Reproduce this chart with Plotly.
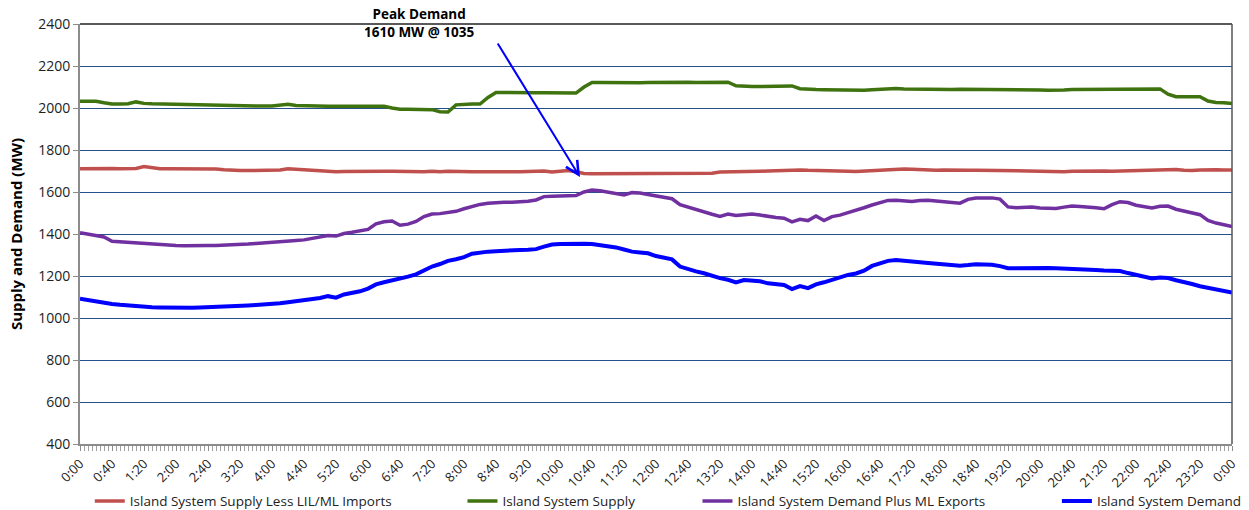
import plotly.graph_objects as go

# time of day in minutes (10-minute readings), 0:00 .. 24:00
minutes = list(range(0, 1441, 10))

tick_minutes = list(range(0, 1441, 40))
tick_labels = ["%d:%02d" % ((m // 60) % 24, m % 60) for m in tick_minutes]

supply_less_imports = [
    1711, 1712, 1710, 1711, 1712, 1711, 1711, 1712, 1721, 1714, 1711, 1711,
    1711, 1711, 1711, 1710, 1710, 1709, 1706, 1703, 1702, 1702, 1702, 1701,
    1701, 1705, 1711, 1709, 1706, 1703, 1699, 1698, 1697, 1698, 1699, 1699,
    1699, 1699, 1699, 1699, 1698, 1699, 1699, 1697, 1699, 1696, 1699, 1697,
    1696, 1697, 1697, 1696, 1696, 1697, 1697, 1697, 1697, 1698, 1700, 1695,
    1697, 1702, 1696, 1688, 1687, 1687, 1688, 1688, 1688, 1689, 1688, 1689,
    1689, 1688, 1689, 1689, 1688, 1688, 1688, 1689, 1695, 1695, 1696, 1697,
    1698, 1699, 1700, 1702, 1703, 1705, 1705, 1703, 1703, 1703, 1703, 1702,
    1699, 1698, 1700, 1704, 1708, 1710, 1710, 1710, 1708, 1706, 1705, 1704,
    1705, 1703, 1702, 1703, 1704, 1703, 1702, 1701, 1701, 1700, 1700, 1700,
    1698, 1697, 1694, 1697, 1699, 1700, 1701, 1701, 1700, 1699, 1700, 1702,
    1702, 1703, 1704, 1706, 1709, 1707, 1704, 1702, 1705, 1707, 1706, 1705,
    1705,
]

supply = [
    2032, 2033, 2032, 2025, 2019, 2019, 2020, 2029, 2022, 2020, 2019, 2019,
    2019, 2019, 2018, 2017, 2016, 2014, 2012, 2010, 2008, 2007, 2008, 2009,
    2009, 2012, 2018, 2012, 2010, 2009, 2008, 2008, 2008, 2007, 2007, 2007,
    2008, 2008, 2008, 2000, 1994, 1994, 1993, 1993, 1992, 1982, 1981, 2015,
    2018, 2019, 2019, 2050, 2074, 2073, 2072, 2072, 2071, 2073, 2073, 2072,
    2072, 2073, 2071, 2100, 2122, 2122, 2121, 2121, 2121, 2121, 2120, 2121,
    2122, 2123, 2123, 2122, 2123, 2122, 2122, 2122, 2122, 2123, 2106, 2102,
    2102, 2102, 2103, 2103, 2104, 2105, 2092, 2088, 2088, 2087, 2086, 2085,
    2084, 2084, 2085, 2087, 2090, 2093, 2093, 2091, 2090, 2090, 2089, 2089,
    2088, 2088, 2089, 2089, 2088, 2087, 2086, 2086, 2086, 2086, 2085, 2085,
    2086, 2084, 2083, 2086, 2088, 2088, 2089, 2089, 2088, 2088, 2089, 2090,
    2090, 2090, 2091, 2091, 2066, 2054, 2054, 2054, 2054, 2033, 2026, 2025,
    2021,
]

demand_plus_exports = [
    1406, 1400, 1395, 1386, 1365, 1362, 1360, 1357, 1353, 1351, 1349, 1347,
    1345, 1344, 1343, 1344, 1345, 1345, 1346, 1347, 1349, 1352, 1355, 1357,
    1359, 1362, 1366, 1369, 1372, 1378, 1386, 1393, 1390, 1402, 1408, 1413,
    1422, 1448, 1458, 1462, 1442, 1447, 1460, 1483, 1495, 1497, 1502, 1508,
    1520, 1530, 1541, 1546, 1550, 1551, 1551, 1552, 1556, 1562, 1578, 1580,
    1580, 1582, 1583, 1600, 1609, 1606, 1600, 1594, 1586, 1597, 1595, 1588,
    1582, 1577, 1568, 1540, 1528, 1515, 1505, 1494, 1484, 1495, 1488, 1492,
    1495, 1490, 1483, 1479, 1475, 1458, 1470, 1464, 1486, 1464, 1483, 1490,
    1502, 1512, 1525, 1538, 1550, 1560, 1561, 1556, 1555, 1559, 1561, 1557,
    1553, 1550, 1547, 1565, 1571, 1572, 1572, 1566, 1529, 1525, 1527, 1528,
    1524, 1523, 1522, 1528, 1533, 1531, 1530, 1525, 1520, 1540, 1554, 1550,
    1537, 1530, 1524, 1532, 1533, 1518, 1508, 1500, 1492, 1465, 1452, 1444,
    1435,
]

demand = [
    1092, 1085, 1078, 1073, 1067, 1063, 1059, 1056, 1053, 1051, 1050, 1049,
    1049, 1048, 1049, 1050, 1051, 1053, 1055, 1056, 1058, 1060, 1062, 1064,
    1065, 1070, 1075, 1080, 1084, 1088, 1095, 1104, 1097, 1112, 1120, 1127,
    1140, 1160, 1170, 1178, 1187, 1197, 1208, 1228, 1245, 1257, 1272, 1280,
    1290, 1306, 1313, 1316, 1318, 1321, 1323, 1324, 1325, 1328, 1340, 1350,
    1352, 1354, 1356, 1354, 1352, 1347, 1342, 1336, 1326, 1316, 1312, 1308,
    1295, 1287, 1279, 1245, 1232, 1222, 1213, 1200, 1190, 1182, 1170, 1181,
    1180, 1175, 1165, 1159, 1157, 1138, 1152, 1142, 1160, 1170, 1182, 1192,
    1205, 1212, 1225, 1248, 1262, 1272, 1276, 1274, 1271, 1266, 1262, 1258,
    1255, 1252, 1249, 1252, 1256, 1255, 1254, 1247, 1237, 1237, 1238, 1240,
    1239, 1238, 1237, 1236, 1235, 1232, 1230, 1228, 1226, 1225, 1224, 1214,
    1206, 1197, 1188, 1193, 1190, 1180, 1172, 1162, 1151, 1143, 1135, 1128,
    1121,
]

series_names = [
    "Island System Supply Less LIL/ML Imports",
    "Island System Supply",
    "Island System Demand Plus ML Exports",
    "Island System Demand",
]
series_values = [supply_less_imports, supply, demand_plus_exports, demand]
series_colors = ["#C0504D", "#3F7310", "#7030A0", "#0000FF"]
series_widths = [3.5, 3.5, 3.5, 4]
legend_ids = ["legend", "legend2", "legend3", "legend4"]
legend_x = [0.0085, 0.332, 0.536, 0.848]

peak_minute = 625
peak_label_y = 1671
arrow_tail_minute = 521
arrow_tail_y = 2314

FONT = "Open Sans"

fig = go.Figure()
for name, vals, col, w, lg in zip(series_names, series_values, series_colors,
                                  series_widths, legend_ids):
    fig.add_trace(go.Scatter(
        x=minutes, y=vals, mode="lines", name=name,
        line=dict(color=col, width=w), legend=lg,
    ))

legend_common = dict(
    orientation="h", yanchor="middle", y=-0.136, xanchor="left",
    font=dict(family=FONT, size=13.5, color="#222222"),
    bgcolor="rgba(0,0,0,0)", borderwidth=0,
)
layout_legends = {}
for lg, lx in zip(legend_ids, legend_x):
    layout_legends[lg] = dict(legend_common, x=lx)

fig.update_layout(
    width=1249, height=510,
    margin=dict(l=80, r=17, t=24, b=66, autoexpand=False),
    paper_bgcolor="white", plot_bgcolor="white",
    font=dict(family=FONT, size=13, color="#222222"),
    showlegend=True,
    **layout_legends,
)

fig.update_xaxes(
    range=[0, 1440], automargin=False,
    tickmode="array", tickvals=tick_minutes, ticktext=tick_labels,
    tickangle=-45, tickfont=dict(family=FONT, size=13, color="#222222"),
    ticks="outside", ticklen=5, tickcolor="#8C8C8C",
    minor=dict(tickmode="linear", tick0=0, dtick=5, ticks="outside",
               ticklen=5, tickcolor="#A0A0A0", showgrid=False),
    showgrid=False, zeroline=False,
    showline=True, linecolor="#8C8C8C", linewidth=2,
)
fig.update_yaxes(
    range=[400, 2400], tickmode="linear", tick0=400, dtick=200, automargin=False,
    tickfont=dict(family=FONT, size=14, color="#222222"),
    ticks="outside", ticklen=5, tickcolor="#8C8C8C",
    showgrid=True, gridcolor="#25508C", gridwidth=1,
    zeroline=False, showline=True, linecolor="#8C8C8C", linewidth=2,
    title=dict(text="<b>Supply and Demand (MW)</b>",
               font=dict(family=FONT, size=15, color="#000000"), standoff=12),
)

# plot-area border (top and right)
fig.add_shape(type="line", xref="paper", yref="paper", x0=0, x1=1, y0=1, y1=1,
              line=dict(color="#222222", width=1.5))
fig.add_shape(type="line", xref="paper", yref="paper", x0=1, x1=1, y0=0, y1=1,
              line=dict(color="#555555", width=1.5))

fig.add_annotation(
    x=peak_minute, y=peak_label_y, xref="x", yref="y",
    ax=arrow_tail_minute, ay=arrow_tail_y, axref="x", ayref="y",
    text="", showarrow=True, arrowhead=5, arrowsize=1.3, arrowwidth=2,
    arrowcolor="#0000FF",
)
fig.add_annotation(
    x=(419 - 80) / 1152, y=(444 - 3) / 420, xref="paper", yref="paper",
    xanchor="center", yanchor="top",
    text="<b>Peak Demand<br>1610 MW @ 1035</b>",
    showarrow=False, font=dict(family=FONT, size=13.5, color="#000000"), align="center",
)

fig.write_html(
    "out.html",
    config={"displayModeBar": False},
    post_script="document.body.style.margin='0';document.body.style.overflow='hidden';",
)
